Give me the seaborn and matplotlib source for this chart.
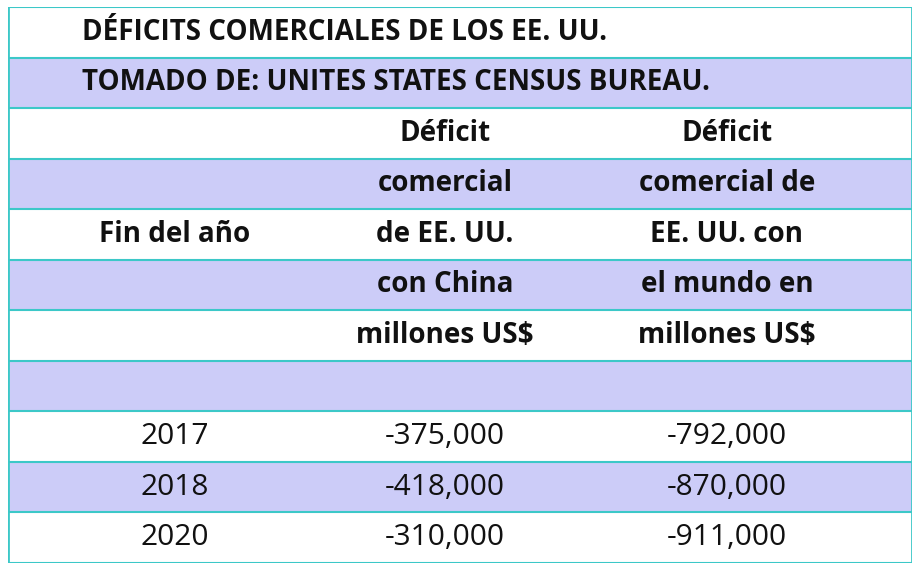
import matplotlib
matplotlib.use("Agg")
import matplotlib.pyplot as plt
import seaborn as sns
import numpy as np
from matplotlib.colors import ListedColormap

title = "DÉFICITS COMERCIALES DE LOS EE. UU."
source = "TOMADO DE: UNITES STATES CENSUS BUREAU."
header_col1 = ["", "", "Fin del año", "", "", ""]
header_col2 = ["Déficit", "comercial", "de EE. UU.", "con China", "millones US$", ""]
header_col3 = ["Déficit", "comercial de", "EE. UU. con", "el mundo en", "millones US$", ""]
years = ["2017", "2018", "2020"]
china_deficit = [-375000, -418000, -310000]
world_deficit = [-792000, -870000, -911000]

n_rows = 2 + len(header_col2) + len(years)
stripes = np.array([[i % 2] for i in range(n_rows)])

sns.set_theme(style="white")
plt.rcParams['font.family'] = ['Open Sans', 'DejaVu Sans']
fig = plt.figure(figsize=(9.2, 5.7), dpi=100)
ax = fig.add_axes([8/920, 7/570, 904/920, 556/570])
sns.heatmap(stripes, cmap=ListedColormap(["#ffffff", "#ccccf8"]), cbar=False,
            ax=ax, xticklabels=False, yticklabels=False)
ax.set_xlim(0, 1)
ax.set_ylim(n_rows, 0)
line_c = "#3cc8c8"
for i in range(n_rows + 1):
    ax.axhline(i, color=line_c, lw=1.5)
ax.axvline(0, color=line_c, lw=2)
ax.axvline(1, color=line_c, lw=2)

fsb = 20
fsn = 21.5
cx = [167/904, 437/904, 719/904]
ax.text(74/904, 0.5, title, ha="left", va="center", fontsize=fsb, fontweight="bold", color="#111")
ax.text(74/904, 1.5, source, ha="left", va="center", fontsize=fsb, fontweight="bold", color="#111")
for k in range(len(header_col2)):
    y = 2 + k + 0.5
    for c, col in zip(cx, [header_col1, header_col2, header_col3]):
        if col[k]:
            ax.text(c, y, col[k], ha="center", va="center", fontsize=fsb, fontweight="bold", color="#111")
for j, (yr, a, b) in enumerate(zip(years, china_deficit, world_deficit)):
    y = 2 + len(header_col2) + j + 0.5
    for c, t in zip(cx, [yr, f"{a:,}", f"{b:,}"]):
        ax.text(c, y, t, ha="center", va="center", fontsize=fsn, color="#111")
for s in ax.spines.values():
    s.set_visible(False)
fig.savefig("out.png", dpi=100)
